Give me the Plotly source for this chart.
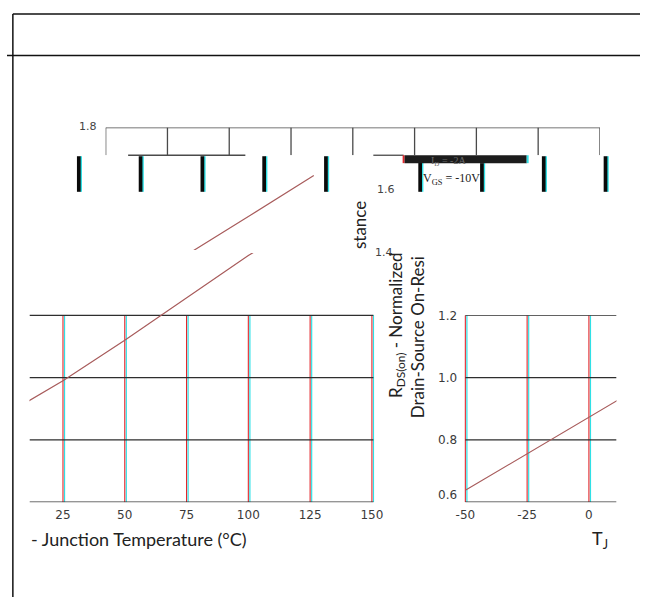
import plotly.graph_objects as go

# ---------------- data ----------------
T_J = [-50, -25, 0, 25, 50, 75, 100, 125, 150]
R_NORM = [0.638, 0.755, 0.873, 0.990, 1.120, 1.256, 1.392, 1.515, 1.640]
X_TICKS_RIGHT = [-50, -25, 0]
X_TICK_TEXT_RIGHT = ["-50", "-25", "0"]
X_TICKS_LEFT = [25, 50, 75, 100, 125, 150]
X_TICK_TEXT_LEFT = ["25", "50", "75", "100", "125", "150"]
Y_TICKS = [0.6, 0.8, 1.0, 1.2]
Y_TICK_TEXT = ["0.6", "0.8", "1.0", "1.2"]
TOP_GRID = [-50, -25, 0, 25, 50, 75, 100, 125, 150]
X_TITLE_A = "T<sub>J</sub>"
X_TITLE_B = "- Junction Temperature (°C)"
Y_TITLE_1 = "R<sub>DS(on)</sub> - Normalized"
Y_TITLE_2A = "Drain-Source On-Resi"
Y_TITLE_2B = "stance"
LABEL_ID = "I<sub>D</sub> = -2A"
LABEL_VGS = "V<sub>GS</sub> = -10V"

# ---------------- geometry helpers ----------------
W, H = 648, 597
KX = 2.53      # px per degC
KY = 315.0     # px per unit of normalized R


def fx(px):
    return px / W


def fy(py):
    return 1 - py / H


# tiles: origin px of T=0, py of R=0.6, domain px, domain py
TILES = {
    "R": dict(x0=595.7, y0=501.0, dx=(466, 624), dy=(312, 501)),
    "L": dict(x0=-5.95, y0=501.0, dx=(23, 377), dy=(249, 501)),
    "U": dict(x0=-65.45, y0=498.0, dx=(120, 340), dy=(150, 246)),
}


def trange(t):
    return [(t["dx"][0] - t["x0"]) / KX, (t["dx"][1] - t["x0"]) / KX]


def rrange(t):
    return [0.6 + (t["y0"] - t["dy"][1]) / KY, 0.6 + (t["y0"] - t["dy"][0]) / KY]


fig = go.Figure()

LINE_COLOR = "#a85c5c"
axis_names = {"R": ("x", "y"), "L": ("x2", "y2"), "U": ("x3", "y3")}
for key, (xa, ya) in axis_names.items():
    fig.add_trace(go.Scatter(x=T_J, y=R_NORM, mode="lines", xaxis=xa, yaxis=ya,
                             line=dict(color=LINE_COLOR, width=1.2),
                             hoverinfo="skip", showlegend=False))

tick_font = dict(family="DejaVu Sans", size=12, color="#3a3a3a")


def axis_common():
    return dict(showgrid=False, zeroline=False, showline=False, ticks="",
                fixedrange=True, tickfont=tick_font)


# the lowest y label sits a little above its grid line in the reference
y_label_pos = [Y_TICKS[0] + 7 / KY] + Y_TICKS[1:]

tR, tL, tU = TILES["R"], TILES["L"], TILES["U"]
layout = dict(
    width=W, height=H, margin=dict(l=0, r=0, t=0, b=0),
    paper_bgcolor="white", plot_bgcolor="rgba(0,0,0,0)",
    xaxis=dict(domain=[fx(tR["dx"][0]), fx(tR["dx"][1])], range=trange(tR), anchor="y",
               tickvals=X_TICKS_RIGHT, ticktext=X_TICK_TEXT_RIGHT, ticklabelstandoff=4,
               **axis_common()),
    yaxis=dict(domain=[fy(tR["dy"][1]), fy(tR["dy"][0])], range=rrange(tR), anchor="x",
               tickvals=y_label_pos, ticktext=Y_TICK_TEXT, ticklabelstandoff=4, **axis_common()),
    xaxis2=dict(domain=[fx(tL["dx"][0]), fx(tL["dx"][1])], range=trange(tL), anchor="y2",
                tickvals=X_TICKS_LEFT, ticktext=X_TICK_TEXT_LEFT, ticklabelstandoff=4,
                **axis_common()),
    yaxis2=dict(domain=[fy(tL["dy"][1]), fy(tL["dy"][0])], range=rrange(tL), anchor="x2",
                showticklabels=False, **axis_common()),
    xaxis3=dict(domain=[fx(tU["dx"][0]), fx(tU["dx"][1])], range=trange(tU), anchor="y3",
                showticklabels=False, **axis_common()),
    yaxis3=dict(domain=[fy(tU["dy"][1]), fy(tU["dy"][0])], range=rrange(tU), anchor="x3",
                showticklabels=False, **axis_common()),
    xaxis4=dict(domain=[fx(101), fx(607)], range=[-50, 150], anchor="y4",
                showticklabels=False, **axis_common()),
    yaxis4=dict(domain=[fy(150), fy(122)], range=[0, 1], anchor="x4",
                showticklabels=False, **axis_common()),
)

shapes = []
RED = "#e3262b"
CYAN = "#2fe0e6"
GRIDH = "#2e2e2e"


def vgrid(xref, yref, t, y0, y1):
    off = 1.6 / KX
    shapes.append(dict(type="line", xref=xref, yref=yref, x0=t + off, x1=t + off, y0=y0, y1=y1,
                       line=dict(color=CYAN, width=1.2), layer="below"))
    shapes.append(dict(type="line", xref=xref, yref=yref, x0=t, x1=t, y0=y0, y1=y1,
                       line=dict(color=RED, width=1.1), layer="below"))


# right tile grid
for t in X_TICKS_RIGHT:
    vgrid("x", "y", t, 0.6, 1.2)
for r in Y_TICKS:
    shapes.append(dict(type="line", xref="x", yref="y", x0=-50, x1=trange(tR)[1], y0=r, y1=r,
                       line=dict(color=GRIDH, width=1.2), layer="below"))
# left tile grid
for t in X_TICKS_LEFT:
    vgrid("x2", "y2", t, 0.6, 1.2)
for r in Y_TICKS:
    shapes.append(dict(type="line", xref="x2", yref="y2", x0=trange(tL)[0], x1=150.6, y0=r, y1=r,
                       line=dict(color=GRIDH, width=1.2), layer="below"))

# top band (frame at 1.8 with grid stubs)
TOPC = "#4a4a4a"
shapes.append(dict(type="line", xref="x4", yref="y4", x0=-50, x1=150, y0=1, y1=1,
                   line=dict(color=TOPC, width=1.3)))
for t in TOP_GRID:
    shapes.append(dict(type="line", xref="x4", yref="y4", x0=t, x1=t, y0=0, y1=1,
                       line=dict(color=TOPC, width=1.3)))


def top_px(t):
    return 101 + (t + 50) * KX


for a, b in [(124, 244), (375, 406)]:
    shapes.append(dict(type="line", xref="paper", yref="paper", x0=fx(a), x1=fx(b),
                       y0=fy(150), y1=fy(150), line=dict(color=TOPC, width=1.3)))

# thick bars (displaced grid fragments)
bars = [top_px(t) - 27.4 for t in TOP_GRID[:5]] + [top_px(t) + 5.8 for t in TOP_GRID[5:]]
for i, bx in enumerate(bars):
    ytop = 158 if i == 6 else 151
    shapes.append(dict(type="rect", xref="paper", yref="paper", x0=fx(bx + 1.2), x1=fx(bx + 3.2),
                       y0=fy(187), y1=fy(ytop), line=dict(width=0), fillcolor=CYAN))
    shapes.append(dict(type="rect", xref="paper", yref="paper", x0=fx(bx - 2), x1=fx(bx + 1.8),
                       y0=fy(187), y1=fy(ytop), line=dict(width=0), fillcolor="#0a0a0a"))

# black box behind I_D label
shapes.append(dict(type="rect", xref="paper", yref="paper", x0=fx(405), x1=fx(407),
                   y0=fy(158), y1=fy(150), line=dict(width=0), fillcolor=RED))
shapes.append(dict(type="rect", xref="paper", yref="paper", x0=fx(407), x1=fx(532),
                   y0=fy(158), y1=fy(150), line=dict(width=0), fillcolor="#1c1c1c"))
shapes.append(dict(type="rect", xref="paper", yref="paper", x0=fx(532), x1=fx(534),
                   y0=fy(158), y1=fy(150), line=dict(width=0), fillcolor=CYAN))

# page frame
FR = "#111111"
shapes.append(dict(type="line", xref="paper", yref="paper", x0=fx(6), x1=1, y0=fy(7), y1=fy(7),
                   line=dict(color=FR, width=1.5)))
shapes.append(dict(type="line", xref="paper", yref="paper", x0=0, x1=1, y0=fy(49), y1=fy(49),
                   line=dict(color=FR, width=1.5)))
shapes.append(dict(type="line", xref="paper", yref="paper", x0=fx(6), x1=fx(6), y0=fy(7), y1=0,
                   line=dict(color=FR, width=1.5)))

layout["shapes"] = shapes

ytitle_font = dict(family="Lato", size=17, color="#222222")
xtitle_font = dict(family="Lato", size=18, color="#222222")
small_font = dict(family="DejaVu Sans", size=11, color="#444444")
annotations = [
    dict(text="1.8", x=fx(94), y=fy(121), xanchor="right", yanchor="middle", font=small_font),
    dict(text="1.6", x=fx(399), y=fy(185), xanchor="right", yanchor="middle", font=small_font),
    dict(text="1.4", x=fx(397), y=fy(248), xanchor="right", yanchor="middle", font=small_font),
    dict(text=Y_TITLE_1, x=fx(399), y=fy(322), textangle=-90, xanchor="center", yanchor="middle",
         font=ytitle_font),
    dict(text=Y_TITLE_2A, x=fx(420), y=fy(334), textangle=-90, xanchor="center", yanchor="middle",
         font=ytitle_font),
    dict(text=Y_TITLE_2B, x=fx(361), y=fy(221), textangle=-90, xanchor="center", yanchor="middle",
         font=ytitle_font),
    dict(text=X_TITLE_B, x=fx(23), y=fy(538), xanchor="left", yanchor="middle", font=xtitle_font),
    dict(text=X_TITLE_A, x=fx(607), y=fy(539), xanchor="center", yanchor="middle", font=xtitle_font),
    dict(text=LABEL_ID, x=fx(452), y=fy(156), xanchor="center", yanchor="middle",
         font=dict(family="Liberation Serif", size=10, color="#6a6a6a")),
    dict(text=LABEL_VGS, x=fx(455), y=fy(174), xanchor="center", yanchor="middle",
         font=dict(family="Liberation Serif", size=12, color="#222222")),
]
for a in annotations:
    a.update(xref="paper", yref="paper", showarrow=False)
layout["annotations"] = annotations

fig.update_layout(**layout)
fig.write_html("out.html", config={"displayModeBar": False},
               post_script="document.body.style.margin='0';document.body.style.overflow='hidden';")
